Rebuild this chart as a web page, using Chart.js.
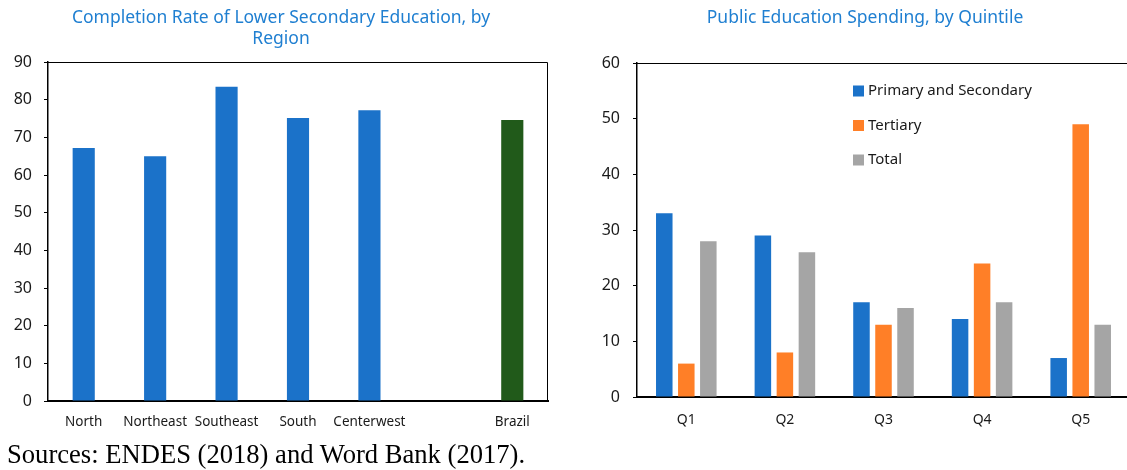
<!DOCTYPE html>
<html>
<head>
<meta charset="utf-8">
<title>Education charts</title>
<script src="https://cdn.jsdelivr.net/npm/chart.js@4.4.0/dist/chart.umd.min.js"></script>
<style>
    html, body {
        margin: 0;
        padding: 0;
        background: #ffffff;
        width: 1127px;
        height: 470px;
        overflow: hidden;
        position: relative;
    }
    .chart-box {
        position: absolute;
        top: 0;
        height: 440px;
    }
    #regionBox { left: 0; width: 562px; }
    #quintileBox { left: 585px; width: 560px; }
    #sourceNote {
        position: absolute;
        left: 7px;
        top: 439px;
        font-family: "Liberation Serif", serif;
        font-size: 26.6px;
        color: #000;
        white-space: nowrap;
    }
</style>
</head>
<body>
<div class="chart-box" id="regionBox"><canvas id="regionChart"></canvas></div>
<div class="chart-box" id="quintileBox"><canvas id="quintileChart"></canvas></div>
<div id="sourceNote">Sources: ENDES (2018) and Word Bank (2017).</div>

<script>
// Completion rate by region (the empty label is the gap before Brazil)
const regionLabels = ['North', 'Northeast', 'Southeast', 'South', 'Centerwest', '', 'Brazil'];
const completionRate = [67.2, 65, 83.4, 75.1, 77.2, null, 74.6];

// Public education spending by quintile
const quintileLabels = ['Q1', 'Q2', 'Q3', 'Q4', 'Q5'];
const primarySecondary = [33, 29, 17, 14, 7];
const tertiary = [6, 8, 13, 24, 49];
const totalSpending = [28, 26, 16, 17, 13];

const FONT = '"Noto Sans", "Open Sans", sans-serif';
const TITLE_COLOR = '#1f7fd1';
const BLUE = '#1b72c9';
const ORANGE = '#ff7f27';
const GRAY = '#a5a5a5';
const GREEN = '#215a1a';

Chart.defaults.font.family = FONT;
Chart.defaults.color = '#1a1a1a';

// Draws the top and right edges of the plot box
const plotFramePlugin = {
    id: 'plotFrame',
    afterDraw(chart) {
        const { ctx, chartArea: { left, right, top, bottom } } = chart;
        ctx.save();
        ctx.strokeStyle = '#000000';
        ctx.lineWidth = 1;
        ctx.beginPath();
        ctx.moveTo(left, top + 0.5);
        ctx.lineTo(right - 0.5, top + 0.5);
        ctx.lineTo(right - 0.5, bottom);
        ctx.stroke();
        ctx.restore();
    }
};

// Legend drawn inside the plot area, stacked vertically
const innerLegendPlugin = {
    id: 'innerLegend',
    afterDraw(chart) {
        const { ctx, chartArea: { left, top } } = chart;
        ctx.save();
        ctx.font = '15px ' + FONT;
        ctx.textBaseline = 'middle';
        chart.data.datasets.forEach((ds, i) => {
            const x = left + 216;
            const y = top + 28 + i * 34.5;
            ctx.fillStyle = ds.backgroundColor;
            ctx.fillRect(x, y - 5.5, 11, 11);
            ctx.fillStyle = '#1a1a1a';
            ctx.fillText(ds.label, x + 15, y);
        });
        ctx.restore();
    }
};

function yAxis(max, width, padding) {
    return {
        min: 0,
        max: max,
        ticks: { stepSize: 10, padding: padding, font: { size: 16 }, color: '#1a1a1a' },
        grid: { drawOnChartArea: false, drawTicks: true, tickLength: 4, color: '#000000' },
        border: { color: '#000000', width: 1.5 },
        afterFit(scale) { scale.width = width; }
    };
}

function xAxis(height, padding, fontSize) {
    return {
        grid: { display: false },
        border: { color: '#000000', width: 2 },
        ticks: { padding: padding, font: { size: fontSize }, color: '#1a1a1a', autoSkip: false, maxRotation: 0 },
        afterFit(scale) { scale.height = height; }
    };
}

// Left chart: completion rate by region
const regionColors = regionLabels.map(l => l === 'Brazil' ? GREEN : BLUE);
new Chart(document.getElementById('regionChart'), {
    type: 'bar',
    data: {
        labels: regionLabels,
        datasets: [{
            label: 'Completion rate',
            data: completionRate,
            backgroundColor: regionColors,
            barPercentage: 0.5,
            categoryPercentage: 0.62
        }]
    },
    options: {
        responsive: true,
        maintainAspectRatio: false,
        animation: false,
        layout: { padding: { top: 0, right: 14, left: 14, bottom: 0 } },
        plugins: {
            legend: { display: false },
            tooltip: { enabled: false },
            title: {
                display: true,
                text: ['Completion Rate of Lower Secondary Education, by', 'Region'],
                color: TITLE_COLOR,
                font: { size: 17.5, weight: 'normal', lineHeight: 1.2 },
                padding: { top: 8, bottom: 12 }
            }
        },
        scales: {
            x: xAxis(39, 5, 13.5),
            y: yAxis(90, 34, 12)
        }
    },
    plugins: [plotFramePlugin]
});

// Right chart: spending by quintile
new Chart(document.getElementById('quintileChart'), {
    type: 'bar',
    data: {
        labels: quintileLabels,
        datasets: [
            { label: 'Primary and Secondary', data: primarySecondary, backgroundColor: BLUE },
            { label: 'Tertiary', data: tertiary, backgroundColor: ORANGE },
            { label: 'Total', data: totalSpending, backgroundColor: GRAY }
        ]
    },
    options: {
        responsive: true,
        maintainAspectRatio: false,
        animation: false,
        datasets: { bar: { barPercentage: 0.75, categoryPercentage: 0.67 } },
        layout: { padding: { top: 0, right: 15, left: 15, bottom: 0 } },
        plugins: {
            legend: { display: false },
            tooltip: { enabled: false },
            title: {
                display: true,
                text: 'Public Education Spending, by Quintile',
                color: TITLE_COLOR,
                font: { size: 17.5, weight: 'normal', lineHeight: 1.2 },
                padding: { top: 7.5, bottom: 34.5 }
            }
        },
        scales: {
            x: xAxis(43, 7, 14),
            y: yAxis(60, 37, 13)
        }
    },
    plugins: [plotFramePlugin, innerLegendPlugin]
});
</script>
</body>
</html>
